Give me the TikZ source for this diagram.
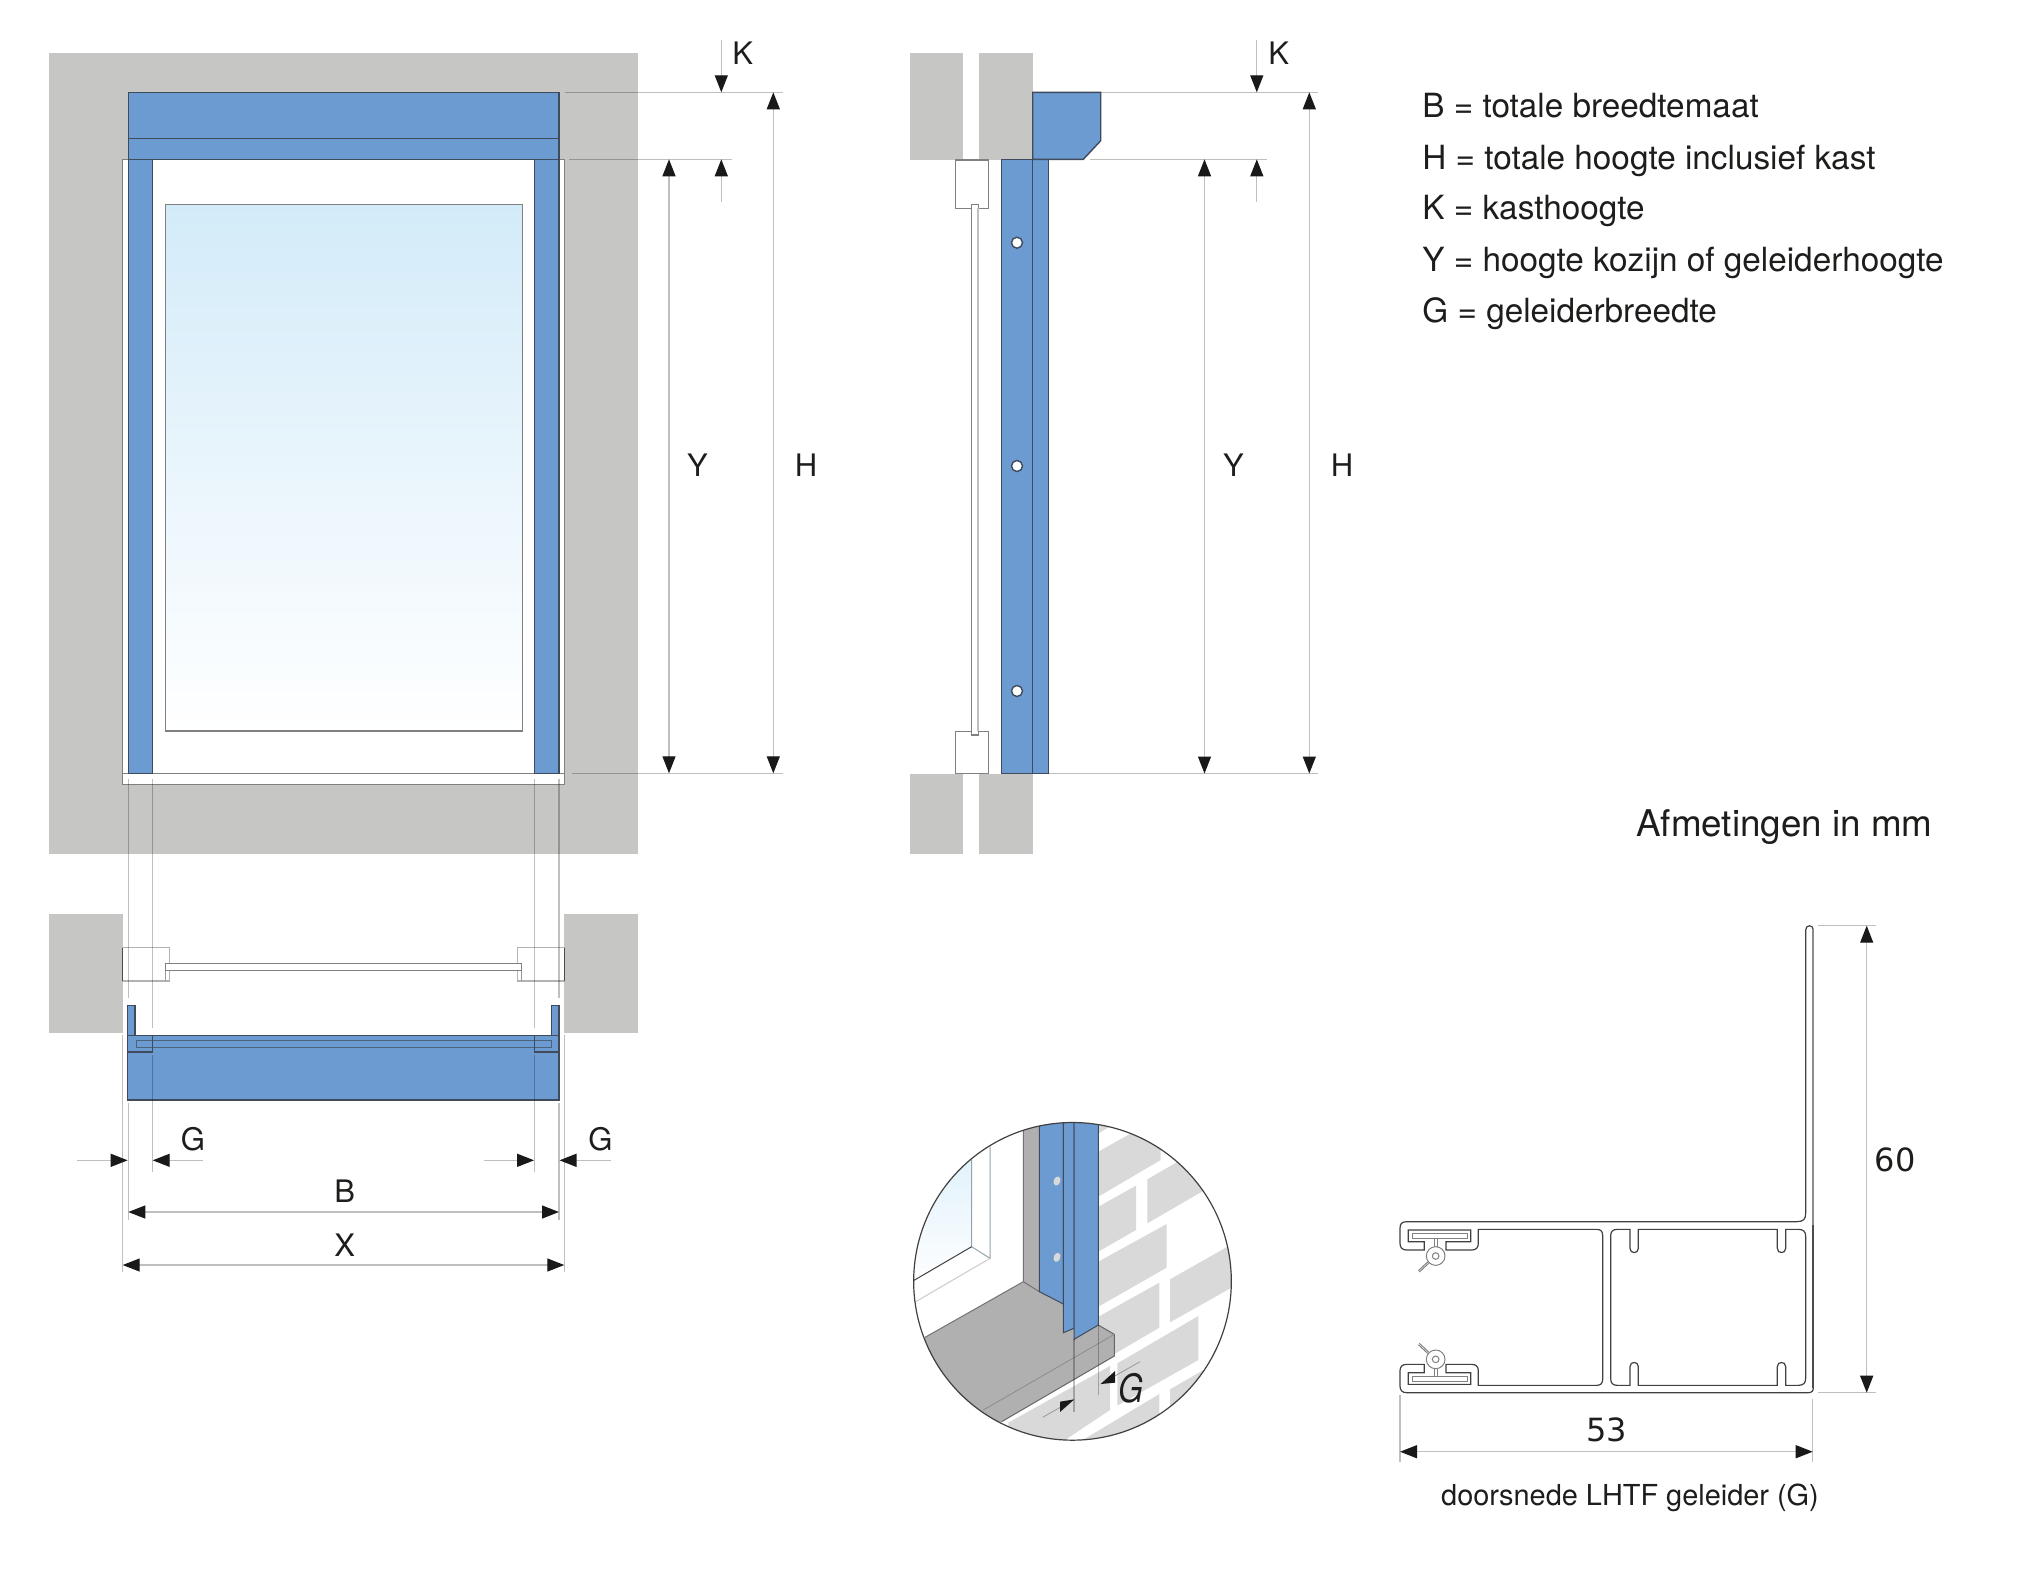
\documentclass[tikz,border=0pt]{standalone}
\usepackage{fontspec}
\setmainfont{TeX Gyre Heros}
\newfontfamily\dimfont{DejaVu Sans}
\usetikzlibrary{arrows.meta}

\definecolor{wallgray}{HTML}{C6C6C5}
\definecolor{railblue}{HTML}{6C9BD2}
\definecolor{railedge}{HTML}{3F4A5A}
\definecolor{framegray}{HTML}{808080}
\definecolor{sillgray}{HTML}{B0B0B0}
\definecolor{brickgray}{HTML}{D9D9D9}
\definecolor{glassblue}{HTML}{D3EBF9}
\definecolor{inktext}{HTML}{1D1D1B}

\tikzset{
    wallpart/.style={fill=wallgray},
    railpart/.style={fill=railblue,draw=railedge,line width=0.7pt},
    framepart/.style={fill=white,draw=framegray,line width=0.65pt},
    extline/.style={draw=black,opacity=0.25,line width=0.65pt},
    dimline/.style={draw=black!25,line width=0.65pt,{Triangle[length=8.5pt,width=6.5pt,black!90]}-{Triangle[length=8.5pt,width=6.5pt,black!90]}},
    dimend/.style={draw=black!25,line width=0.65pt,-{Triangle[length=8.5pt,width=6.5pt,black!90]}},
    lbl/.style={text=inktext,font=\fontsize{15.5}{18}\selectfont,inner sep=0pt},
    listtext/.style={text=inktext,font=\fontsize{16.65}{20}\selectfont,anchor=west,inner sep=0pt},
    profile/.style={draw=black!75,line width=0.6pt},
    profilethin/.style={draw=black!50,line width=0.5pt},
    brick/.style={fill=brickgray}
}

\begin{document}
\begin{tikzpicture}[x=0.5pt,y=-0.5pt]
    \useasboundingbox (0,0) rectangle (2025,1571);

    % the front view
    \fill[wallpart] (49.3,53) rectangle (638,854);
    \draw[framepart] (122.3,159.3) rectangle (564.3,773.3);
    \draw[framepart] (122.3,773.3) rectangle (564.3,784.3);
    \shade[top color=glassblue,bottom color=white] (165.3,204.3) rectangle (522.7,731);
    \draw[draw=framegray,line width=0.65pt] (165.3,204.3) rectangle (522.7,731);
    \draw[railpart] (128.3,159.3) rectangle (152.4,773.3);
    \draw[railpart] (534.3,159.3) rectangle (559,773.3);
    \draw[railpart] (128.3,92.3) rectangle (559,159.3);
    \draw[railedge,line width=0.6pt] (128.3,138.3) -- (559,138.3);

    % the side view
    \fill[wallpart] (910,53) rectangle (963.3,160);
    \fill[wallpart] (979.3,53) rectangle (1032.7,160);
    \fill[wallpart] (910,773.7) rectangle (963.3,853.7);
    \fill[wallpart] (979.3,773.7) rectangle (1032.7,853.7);
    \draw[framepart] (955.3,160) rectangle (988.7,208.3);
    \draw[framepart] (955.3,731.3) rectangle (988.7,773.7);
    \draw[framepart] (971.3,204.3) rectangle (978.3,735);
    \draw[draw=black!25,line width=1pt] (978.3,208.3) -- (978.3,731.3);
    \draw[railpart] (1001.3,159.3) rectangle (1032.7,773.7);
    \draw[railpart] (1032.7,159.3) rectangle (1048.3,773.7);
    \draw[railpart] (1032.7,92.3) -- (1100.7,92.3) -- (1100.7,140.7) -- (1083.3,159.3) -- (1032.7,159.3) -- cycle;
    \draw[railpart,fill=white] (1017,242.7) circle (5.5);
    \draw[railpart,fill=white] (1017,466) circle (5.5);
    \draw[railpart,fill=white] (1017,691) circle (5.5);

    % the section below the front view
    \fill[wallpart] (49.3,913.7) rectangle (122.7,1032.7);
    \fill[wallpart] (564.3,913.7) rectangle (638,1032.7);
    \draw[framepart,draw=black!30] (122.7,947.7) rectangle (169.3,981);
    \draw[framepart,draw=black!30] (517.7,947.7) rectangle (564.3,981);
    \draw[draw=black!70,line width=0.5pt] (122.7,947.7) -- (122.7,981);
    \draw[draw=black!70,line width=0.5pt] (564.3,947.7) -- (564.3,981);
    \draw[draw=black!40,line width=0.5pt] (165.7,970.7) -- (165.7,981);
    \draw[draw=black!40,line width=0.5pt] (521.3,970.7) -- (521.3,981);
    \draw[framepart] (165.7,963.3) rectangle (521.3,970.7);
    \draw[railpart] (127.7,1005.3) rectangle (135,1036);
    \draw[railpart] (551.7,1005.3) rectangle (559,1036);
    \draw[railpart] (127.7,1035.7) rectangle (559,1100);
    \draw[railedge,opacity=0.7,line width=0.5pt] (136,1047.7) -- (136,1040) -- (551,1040) -- (551,1047.7) -- cycle;
    \draw[railedge,line width=0.7pt] (127.7,1035.7) rectangle (152.4,1052);
    \draw[railedge,line width=0.7pt] (534.3,1035.7) rectangle (559,1052);

    % the extension lines
    \draw[extline] (564.7,92.3) -- (782.7,92.3);
    \draw[extline] (569,159.3) -- (731.7,159.3);
    \draw[extline] (572,773.3) -- (782.7,773.3);
    \draw[extline] (1100.7,92.3) -- (1318,92.3);
    \draw[extline] (1090,159.3) -- (1267,159.3);
    \draw[extline] (1048.3,773.5) -- (1318,773.5);
    \draw[extline] (128.3,779) -- (128.3,998);
    \draw[extline] (152.4,779) -- (152.4,1028);
    \draw[extline] (534.3,779) -- (534.3,1028);
    \draw[extline] (559,779) -- (559,998);
    \draw[extline] (152.4,1055) -- (152.4,1172);
    \draw[extline] (534.3,1055) -- (534.3,1172);
    \draw[extline] (128.3,1103) -- (128.3,1220);
    \draw[extline] (559,1103) -- (559,1220);
    \draw[extline] (122.7,1035) -- (122.7,1272);
    \draw[extline] (564.3,1035) -- (564.3,1272);

    % the arrows of the drawings above
    \coordinate (yTopFront) at (669,159.3);
    \coordinate (yBotFront) at (669,773.3);
    \coordinate (hTopFront) at (773.3,92.3);
    \coordinate (hBotFront) at (773.3,773.3);
    \coordinate (kInFront) at (721.3,40);
    \coordinate (kTipFront) at (721.3,92.3);
    \coordinate (kOutFront) at (721.3,201.7);
    \coordinate (kUpFront) at (721.3,159.3);
    \draw[dimline] (yTopFront) -- (yBotFront);
    \draw[dimline] (hTopFront) -- (hBotFront);
    \draw[dimend] (kInFront) -- (kTipFront);
    \draw[dimend] (kOutFront) -- (kUpFront);

    \coordinate (yTopSide) at (1204.5,159.3);
    \coordinate (yBotSide) at (1204.5,773.5);
    \coordinate (hTopSide) at (1309.3,92.3);
    \coordinate (hBotSide) at (1309.3,773.5);
    \coordinate (kInSide) at (1256.8,40);
    \coordinate (kTipSide) at (1256.8,92.3);
    \coordinate (kOutSide) at (1256.8,201.7);
    \coordinate (kUpSide) at (1256.8,159.3);
    \draw[dimline] (yTopSide) -- (yBotSide);
    \draw[dimline] (hTopSide) -- (hBotSide);
    \draw[dimend] (kInSide) -- (kTipSide);
    \draw[dimend] (kOutSide) -- (kUpSide);

    \coordinate (gTailA) at (76.7,1160.3);
    \coordinate (gTipA) at (127.7,1160.3);
    \coordinate (gTailB) at (203,1160.3);
    \coordinate (gTipB) at (152.7,1160.3);
    \coordinate (gTailC) at (484,1160.3);
    \coordinate (gTipC) at (534.1,1160.3);
    \coordinate (gTailD) at (611,1160.3);
    \coordinate (gTipD) at (559.5,1160.3);
    \draw[dimend] (gTailA) -- (gTipA);
    \draw[dimend] (gTailB) -- (gTipB);
    \draw[dimend] (gTailC) -- (gTipC);
    \draw[dimend] (gTailD) -- (gTipD);
    \coordinate (bLeft) at (128.3,1212);
    \coordinate (bRight) at (559,1212);
    \coordinate (xLeft) at (122.7,1265);
    \coordinate (xRight) at (564.3,1265);
    \draw[dimline] (bLeft) -- (bRight);
    \draw[dimline] (xLeft) -- (xRight);

    % the labels
    \node[lbl] (kFront) at (742.6,53) {K};
    \node[lbl] (yFront) at (697.4,465) {Y};
    \node[lbl] (hFront) at (806,465) {H};
    \node[lbl] (kSide) at (1278.6,53) {K};
    \node[lbl] (ySide) at (1233.4,465) {Y};
    \node[lbl] (hSide) at (1342,465) {H};
    \node[lbl] (gLeft) at (193,1139) {G};
    \node[lbl] (gRight) at (600.5,1139) {G};
    \node[lbl] (bLabel) at (344.8,1191) {B};
    \node[lbl] (xLabel) at (344.8,1245) {X};

    \node[listtext] (listB) at (1422,106) {B = totale breedtemaat};
    \node[listtext] (listH) at (1422,160.5) {H = totale hoogte inclusief kast};
    \node[listtext] (listK) at (1422,211) {K = kasthoogte};
    \node[listtext] (listY) at (1422,262.6) {Y = hoogte kozijn of geleiderhoogte};
    \node[listtext] (listG) at (1422,314) {G = geleiderbreedte};
    \node[listtext,font=\fontsize{18.4}{22}\selectfont] (sizes) at (1636,827) {Afmetingen in mm};

    % the detail in the circle
    \begin{scope}[shift={(880,1100)},scale=1/3]
        \coordinate (detail) at (577.5,544);
        \begin{scope}
            \clip (detail) circle[radius=476.5];
            \shade[top color=glassblue!80,bottom color=white] (90,100) rectangle (275,560);
            \fill[white] (90,540) -- (275,440) -- (275,600) -- (90,600) -- cycle;
            \fill[white] (275,60) rectangle (430,700);
            \draw[draw=black!30!glassblue,line width=0.5pt] (275,180) -- (275,440) -- (330,475) -- (330,140);
            \draw[draw=black!75,line width=0.5pt] (275,440) -- (90,548);
            \draw[draw=black!20,line width=0.5pt] (330,475) -- (90,615);
            % the bricks
            \fill[brick] (655,100) -- (720,62) -- (655,62) -- cycle;
            \fill[brick] (655,155) -- (842,50) -- (842,180) -- (655,290) -- cycle;
            \fill[brick] (655,320) -- (768,257) -- (768,390) -- (655,455) -- cycle;
            \fill[brick] (802,238) -- (1000,123) -- (1000,255) -- (802,370) -- cycle;
            \fill[brick] (655,485) -- (860,372) -- (860,503) -- (655,620) -- cycle;
            \fill[brick] (655,650) -- (838,548) -- (838,683) -- (655,790) -- cycle;
            \fill[brick] (870,538) -- (1060,430) -- (1060,560) -- (870,667) -- cycle;
            \fill[brick] (712,790) -- (955,648) -- (955,780) -- (712,917) -- cycle;
            \fill[brick] (385,968) -- (690,798) -- (690,930) -- (540,1030) -- (385,1030) -- cycle;
            \fill[brick] (600,1025) -- (838,882) -- (838,1040) -- (600,1040) -- cycle;
            \fill[brick] (870,868) -- (1040,770) -- (1040,850) -- (870,950) -- cycle;
            % the sill and the reveal
            \fill[sillgray] (430,60) -- (478,60) -- (478,575) -- (550,612) -- (550,698) -- (582,685) -- (582,718) -- (655,675) -- (703,703) -- (703,768) -- (365,965) -- (310,1000) -- (60,800) -- (135,712) -- (430,545) -- cycle;
            \draw[draw=black!55,line width=0.5pt] (430,60) -- (430,545) -- (135,712);
            \draw[draw=black!55,line width=0.5pt] (430,545) -- (478,575);
            \draw[draw=black!60,line width=0.5pt] (655,675) -- (703,703) -- (703,768) -- (365,965);
            \draw[draw=black!45,line width=0.4pt] (703,703) -- (310,930);
            % the rail
            \draw[railpart,line width=0.5pt] (478,50) -- (550,50) -- (550,612) -- (478,575) -- cycle;
            \draw[railpart,line width=0.5pt] (550,50) -- (582,50) -- (582,685) -- (550,698) -- cycle;
            \draw[railpart,line width=0.5pt] (582,50) -- (655,50) -- (655,675) -- (582,718) -- cycle;
            \fill[brickgray,rotate around={-20:(531,243)}] (531,243) ellipse [x radius=10,y radius=14];
            \fill[brickgray,rotate around={-20:(531,472)}] (531,472) ellipse [x radius=10,y radius=14];
            \draw[extline] (582,718) -- (582,935);
            \draw[extline] (655,675) -- (655,885);
        \end{scope}
        \draw[draw=black!75,line width=0.6pt] (detail) circle[radius=476.5];
        % the two skewed arrows
        \coordinate (gTailE) at (488,952);
        \coordinate (gTipE) at (583,898);
        \coordinate (gTailF) at (780,785);
        \coordinate (gTipF) at (662,852);
        \draw[draw=black!40,line width=0.4pt] (gTailE) -- (gTipE);
        \draw[draw=black!40,line width=0.4pt] (gTailF) -- (gTipF);
        \fill[black!90] (gTipE) -- (540,905) -- (540,936) -- cycle;
        \fill[black!90] (gTipF) -- (705,813) -- (705,848) -- cycle;
        \node[text=inktext,inner sep=0pt,font=\fontsize{19.5}{22}\selectfont\itshape,xscale=0.82] (gDetail) at (752,865) {G};
    \end{scope}

    % the profile of the guide
    \begin{scope}[shift={(1380,1200)},scale=1/3]
        \draw[profile] (1300,-810) .. controls (1300,-827) and (1277,-827) .. (1277,-810)
            -- (1277,40) .. controls (1277,58) and (1270,65) .. (1250,65)
            -- (80,65) .. controls (65,65) and (60,72) .. (60,85)
            -- (60,130) .. controls (60,143) and (67,150) .. (80,150)
            -- (133,150) -- (133,125) -- (85,125) -- (85,90) -- (272,90) -- (272,125) -- (198,125) -- (198,150)
            -- (275,150) .. controls (288,150) and (295,143) .. (295,130)
            -- (295,88) -- (650,88) .. controls (662,88) and (668,94) .. (668,106)
            -- (668,538) .. controls (668,550) and (662,556) .. (650,556)
            -- (295,556) -- (295,512) .. controls (295,500) and (288,493) .. (275,493)
            -- (198,493) -- (198,518) -- (272,518) -- (272,553) -- (85,553) -- (85,518) -- (133,518) -- (133,493)
            -- (80,493) .. controls (67,493) and (60,500) .. (60,512)
            -- (60,558) .. controls (60,571) and (67,578) .. (80,578)
            -- (1285,578) .. controls (1295,578) and (1300,573) .. (1300,563) -- cycle;
        \draw[draw=black!45,line width=1pt] (1300,-812) -- (1300,75);
        \draw[draw=black!70,line width=1pt] (1300,75) -- (1300,565);
        \draw[profile] (775,88) -- (1192,88) -- (1192,145) .. controls (1192,162) and (1217,162) .. (1217,145) -- (1217,88)
            -- (1255,88) .. controls (1270,88) and (1277,95) .. (1277,108)
            -- (1277,535) .. controls (1277,549) and (1270,556) .. (1255,556)
            -- (1217,556) -- (1217,500) .. controls (1217,483) and (1192,483) .. (1192,500) -- (1192,556)
            -- (775,556) -- (775,500) .. controls (775,483) and (750,483) .. (750,500) -- (750,556)
            -- (712,556) .. controls (698,556) and (692,549) .. (692,535)
            -- (692,108) .. controls (692,95) and (698,88) .. (712,88)
            -- (750,88) -- (750,145) .. controls (750,162) and (775,162) .. (775,145) -- cycle;
        % the small clips
        \draw[profilethin] (97,100) rectangle (262,115);
        \draw[profilethin] (162,115) -- (162,142);
        \draw[profilethin] (172,115) -- (172,140);
        \draw[profilethin] (167,168) circle[radius=28];
        \draw[profilethin] (167,168) circle[radius=10];
        \draw[profilethin] (118,216) -- (146,190);
        \draw[profilethin] (115,212) -- (143,186);
        \draw[profilethin] (97,530) rectangle (262,545);
        \draw[profilethin] (162,530) -- (162,503);
        \draw[profilethin] (172,530) -- (172,505);
        \draw[profilethin] (167,478) circle[radius=28];
        \draw[profilethin] (167,478) circle[radius=10];
        \draw[profilethin] (118,430) -- (146,456);
        \draw[profilethin] (115,434) -- (143,460);
    \end{scope}

    % the dimensions of the profile
    \draw[extline] (1818,925.7) -- (1876,925.7);
    \draw[extline] (1818,1392.7) -- (1876,1392.7);
    \draw[extline] (1400,1395) -- (1400,1461.7);
    \draw[extline] (1812.7,1399) -- (1812.7,1461.7);
    \coordinate (sixtyTop) at (1866.7,925.7);
    \coordinate (sixtyBot) at (1866.7,1392.7);
    \coordinate (fiftyLeft) at (1400,1451.7);
    \coordinate (fiftyRight) at (1812.7,1451.7);
    \draw[dimline] (sixtyTop) -- (sixtyBot);
    \draw[dimline] (fiftyLeft) -- (fiftyRight);
    \node[lbl,font=\dimfont\fontsize{16}{19}\selectfont] (sixty) at (1895,1160) {60};
    \node[lbl,font=\dimfont\fontsize{16}{19}\selectfont] (fiftyThree) at (1606.7,1430) {53};
    \node[lbl,font=\fontsize{14.45}{17}\selectfont] (caption) at (1630,1497.5) {doorsnede LHTF geleider (G)};
\end{tikzpicture}
\end{document}
